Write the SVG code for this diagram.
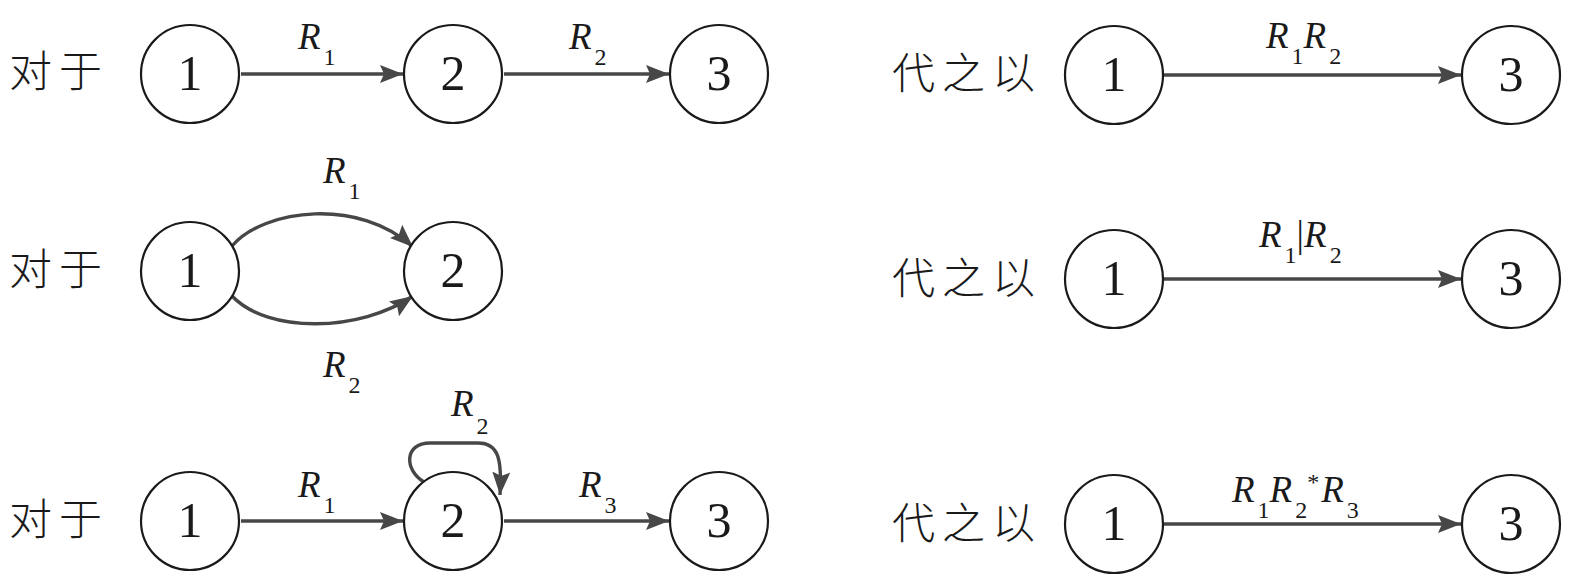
<svg xmlns="http://www.w3.org/2000/svg" width="1587" height="583" viewBox="0 0 1587 583">
<defs>
<style>
.node circle{fill:#fff;stroke:#1a1a1a;stroke-width:2.2}
.num{font-family:"Liberation Serif",serif;font-size:50px;fill:#1a1a1a;text-anchor:middle}
.cjk{font-family:"Noto Sans CJK SC","Noto Sans",sans-serif;font-size:43px;fill:#1a1a1a;letter-spacing:7px;font-weight:300}
.lab{font-family:"Liberation Serif",serif;font-style:italic;font-size:37px;fill:#1a1a1a}
.sub{font-style:normal;font-size:24px}
.edge{fill:none;stroke:#474747;stroke-width:3.4;marker-end:url(#ah)}
</style>
<marker id="ah" markerUnits="userSpaceOnUse" markerWidth="26" markerHeight="22" refX="23" refY="11" orient="auto">
<path d="M0,2 L23,11 L0,20 L4,11 z" fill="#474747"/>
</marker>
</defs>
<g id="labels">
<text class="cjk" x="9" y="87">对于</text>
<text class="cjk" x="9" y="285">对于</text>
<text class="cjk" x="9" y="535">对于</text>
<text class="cjk" x="892" y="89">代之以</text>
<text class="cjk" x="892" y="294">代之以</text>
<text class="cjk" x="892" y="539">代之以</text>
</g>
<g id="connectors">
<path class="edge" d="M241,74 L403,74"/>
<path class="edge" d="M504,74 L669,74"/>
<path class="edge" d="M232,246 C265,208 360,198 413,247"/>
<path class="edge" d="M232,296 C268,334 360,332 413,296"/>
<path class="edge" d="M241,521 L403,521"/>
<path class="edge" d="M424,482 C404,470 404,443 430,443 L478,443 C499,443 502,460 500,495"/>
<path class="edge" d="M504,521 L669,521"/>
<path class="edge" d="M1164,75 L1461,75"/>
<path class="edge" d="M1164,279 L1461,279"/>
<path class="edge" d="M1164,524 L1461,524"/>
</g>
<g id="edge-labels">
<text class="lab" x="298" y="49">R<tspan class="sub" dx="3" dy="16">1</tspan></text>
<text class="lab" x="569" y="49">R<tspan class="sub" dx="3" dy="16">2</tspan></text>
<text class="lab" x="1266" y="48">R<tspan class="sub" dx="3" dy="16">1</tspan><tspan dy="-16">R</tspan><tspan class="sub" dx="3" dy="16">2</tspan></text>
<text class="lab" x="323" y="183">R<tspan class="sub" dx="3" dy="16">1</tspan></text>
<text class="lab" x="323" y="377">R<tspan class="sub" dx="3" dy="16">2</tspan></text>
<text class="lab" x="1259" y="247">R<tspan class="sub" dx="3" dy="16">1</tspan><tspan font-style="normal" dy="-16">|</tspan><tspan>R</tspan><tspan class="sub" dx="3" dy="16">2</tspan></text>
<text class="lab" x="298" y="497">R<tspan class="sub" dx="3" dy="16">1</tspan></text>
<text class="lab" x="451" y="416">R<tspan class="sub" dx="3" dy="18">2</tspan></text>
<text class="lab" x="579" y="497">R<tspan class="sub" dx="3" dy="16">3</tspan></text>
<text class="lab" x="1232" y="502">R<tspan class="sub" dx="3" dy="16">1</tspan><tspan dy="-16">R</tspan><tspan class="sub" dx="3" dy="16">2</tspan><tspan class="sub" font-size="18" dy="-28">*</tspan><tspan dy="12" dx="2">R</tspan><tspan class="sub" dx="3" dy="16">3</tspan></text>
</g>
<g id="n1a" class="node"><circle cx="190" cy="74" r="49"/><text class="num" x="190" y="90">1</text></g>
<g id="n2a" class="node"><circle cx="453" cy="74" r="49"/><text class="num" x="453" y="90">2</text></g>
<g id="n3a" class="node"><circle cx="719" cy="74" r="49"/><text class="num" x="719" y="90">3</text></g>
<g id="n1b" class="node"><circle cx="1114" cy="75" r="49"/><text class="num" x="1114" y="91">1</text></g>
<g id="n3b" class="node"><circle cx="1511" cy="75" r="49"/><text class="num" x="1511" y="91">3</text></g>
<g id="n1c" class="node"><circle cx="190" cy="271" r="49"/><text class="num" x="190" y="287">1</text></g>
<g id="n2c" class="node"><circle cx="453" cy="271" r="49"/><text class="num" x="453" y="287">2</text></g>
<g id="n1d" class="node"><circle cx="1114" cy="279" r="49"/><text class="num" x="1114" y="295">1</text></g>
<g id="n3d" class="node"><circle cx="1511" cy="279" r="49"/><text class="num" x="1511" y="295">3</text></g>
<g id="n1e" class="node"><circle cx="190" cy="521" r="49"/><text class="num" x="190" y="537">1</text></g>
<g id="n2e" class="node"><circle cx="453" cy="521" r="49"/><text class="num" x="453" y="537">2</text></g>
<g id="n3e" class="node"><circle cx="719" cy="521" r="49"/><text class="num" x="719" y="537">3</text></g>
<g id="n1f" class="node"><circle cx="1114" cy="524" r="49"/><text class="num" x="1114" y="540">1</text></g>
<g id="n3f" class="node"><circle cx="1511" cy="524" r="49"/><text class="num" x="1511" y="540">3</text></g>
</svg>
